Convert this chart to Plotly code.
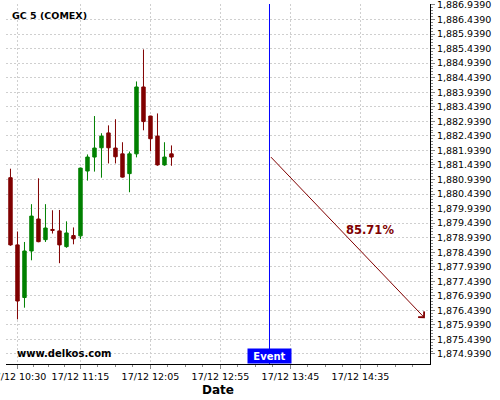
import plotly.graph_objects as go
from datetime import datetime, timedelta

DAY = "2020-12-17"

times = ["10:25", "10:30", "10:35", "10:40", "10:45", "10:50", "10:55", "11:00",
         "11:05", "11:10", "11:15", "11:20", "11:25", "11:30", "11:35", "11:40",
         "11:45", "11:50", "11:55", "12:00", "12:05", "12:10", "12:15", "12:20"]
opens = [1881.00, 1878.69, 1876.88, 1878.48, 1879.58, 1878.87, 1879.22, 1879.17,
         1878.63, 1879.01, 1879.00, 1881.23, 1881.71, 1882.03, 1882.54, 1882.02,
         1881.82, 1881.14, 1881.82, 1884.12, 1883.12, 1882.43, 1881.44, 1881.82]
highs = [1881.31, 1879.15, 1878.79, 1880.09, 1880.98, 1880.09, 1879.88, 1879.89,
         1879.50, 1879.29, 1881.35, 1881.80, 1883.12, 1882.53, 1882.80, 1883.01,
         1882.22, 1881.90, 1884.31, 1885.41, 1883.13, 1883.21, 1882.22, 1882.11]
lows = [1878.66, 1876.13, 1876.53, 1878.16, 1878.78, 1878.79, 1879.08, 1878.06,
        1878.59, 1878.71, 1878.89, 1880.90, 1881.21, 1881.00, 1881.49, 1881.49,
        1881.00, 1880.50, 1881.70, 1882.63, 1881.91, 1881.41, 1881.41, 1881.41]
closes = [1878.69, 1876.76, 1878.48, 1879.68, 1878.80, 1879.27, 1879.19, 1878.69,
          1879.10, 1878.90, 1881.33, 1881.71, 1882.02, 1882.43, 1882.03, 1881.72,
          1881.02, 1881.82, 1884.12, 1882.93, 1882.34, 1881.44, 1881.71, 1881.71]

x_tick_times = ["10:30", "11:15", "12:05", "12:55", "13:45", "14:35"]
x_tick_labels = ["17/12 10:30", "17/12 11:15", "17/12 12:05",
                 "17/12 12:55", "17/12 13:45", "17/12 14:35"]

y_tick_values = [1874.939, 1875.439, 1875.939, 1876.439, 1876.939, 1877.439,
                 1877.939, 1878.439, 1878.939, 1879.439, 1879.939, 1880.439,
                 1880.939, 1881.439, 1881.939, 1882.439, 1882.939, 1883.439,
                 1883.939, 1884.439, 1884.939, 1885.439, 1885.939, 1886.439,
                 1886.939]
y_tick_labels = ["1,874.9390", "1,875.4390", "1,875.9390", "1,876.4390", "1,876.9390",
                 "1,877.4390", "1,877.9390", "1,878.4390", "1,878.9390", "1,879.4390",
                 "1,879.9390", "1,880.4390", "1,880.9390", "1,881.4390", "1,881.9390",
                 "1,882.4390", "1,882.9390", "1,883.4390", "1,883.9390", "1,884.4390",
                 "1,884.9390", "1,885.4390", "1,885.9390", "1,886.4390", "1,886.9390"]

event_time = "13:30"
arrow_start = ("13:30", 1881.76)
arrow_end = ("15:21", 1876.17)
probability_label = "85.71%"
label_pos = ("14:42", 1879.20)
instrument = "GC 5 (COMEX)"
watermark = "www.delkos.com"

x_range = ("10:21:48", "15:24:39")
y_range = (1874.594, 1886.973)


def ts(t):
    if t.count(":") == 1:
        t = t + ":00"
    return f"{DAY} {t}"


def dt(t):
    return datetime.strptime(ts(t), "%Y-%m-%d %H:%M:%S")


# minor x ticks: 4 sub-intervals between major ticks
minor_x = []
for a, b in zip(x_tick_times[:-1], x_tick_times[1:]):
    da, db = dt(a), dt(b)
    step = (db - da) / 4
    for k in range(1, 4):
        minor_x.append((da + step * k).strftime("%Y-%m-%d %H:%M:%S"))
last = dt(x_tick_times[-1])
for k in range(1, 4):
    minor_x.append((last + timedelta(minutes=12.5 * k)).strftime("%Y-%m-%d %H:%M:%S"))
first = dt(x_tick_times[0])
minor_x.append((first - timedelta(minutes=11.25)).strftime("%Y-%m-%d %H:%M:%S"))

# minor y ticks: 5 sub-intervals per major step
minor_y = []
for a, b in zip(y_tick_values[:-1], y_tick_values[1:]):
    for k in range(1, 5):
        minor_y.append(a + (b - a) * k / 5)

RED = "#800000"
GREEN = "#008000"
FONT = "DejaVu Sans"

fig = go.Figure()
fig.add_trace(go.Candlestick(
    x=[ts(t) for t in times], open=opens, high=highs, low=lows, close=closes,
    increasing=dict(line=dict(color=GREEN, width=1), fillcolor=GREEN),
    decreasing=dict(line=dict(color=RED, width=1), fillcolor=RED),
    whiskerwidth=0, showlegend=False, hoverinfo="skip",
))

fig.add_shape(type="line", xref="x", yref="paper",
              x0=ts(event_time), x1=ts(event_time), y0=0, y1=1,
              line=dict(color="#0000FF", width=1))

fig.add_annotation(x=ts(arrow_end[0]), y=arrow_end[1],
                   ax=ts(arrow_start[0]), ay=arrow_start[1],
                   xref="x", yref="y", axref="x", ayref="y",
                   showarrow=True, arrowhead=4, arrowsize=1.6, arrowwidth=1,
                   arrowcolor=RED, text="")

fig.add_annotation(x=ts(label_pos[0]), y=label_pos[1], xref="x", yref="y",
                   text=f"<b>{probability_label}</b>", showarrow=False,
                   font=dict(family=FONT, size=11.5, color=RED),
                   xanchor="center", yanchor="middle")

fig.add_annotation(x=ts(event_time), y=0, xref="x", yref="paper",
                   text="<b>Event</b>", showarrow=False,
                   font=dict(family=FONT, size=10, color="white"),
                   bgcolor="#0000FF", width=43, height=14, borderpad=0,
                   xanchor="center", yanchor="bottom")

fig.add_annotation(x=0.009, y=0.969, xref="paper", yref="paper",
                   text=f"<b>{instrument}</b>", showarrow=False,
                   font=dict(family=FONT, size=9.5, color="black"),
                   xanchor="left", yanchor="middle")

fig.add_annotation(x=0.021, y=0.028, xref="paper", yref="paper",
                   text=f"<b>{watermark}</b>", showarrow=False,
                   font=dict(family=FONT, size=10, color="black"),
                   xanchor="left", yanchor="middle")

fig.update_layout(
    width=500, height=400,
    margin=dict(l=6, r=70, t=4, b=36),
    paper_bgcolor="white", plot_bgcolor="white",
    font=dict(family=FONT, size=9.5, color="black"),
    showlegend=False,
    xaxis=dict(
        type="date", range=[ts(x_range[0]), ts(x_range[1])],
        automargin=False, ticklabeloverflow="allow",
        rangeslider=dict(visible=False),
        tickmode="array", tickvals=[ts(t) for t in x_tick_times], ticktext=x_tick_labels,
        ticks="outside", ticklen=4, tickcolor="#888888",
        tickfont=dict(family=FONT, size=9.5, color="black"),
        showgrid=True, gridcolor="#cfcfcf", griddash="2px,2px", gridwidth=1,
        showline=True, linecolor="black", linewidth=1, mirror=False,
        zeroline=False,
        minor=dict(tickmode="array", tickvals=minor_x, ticks="outside",
                   ticklen=2, tickcolor="#888888", showgrid=False),
        title=dict(text="<b>Date</b>", font=dict(family=FONT, size=12, color="black"),
                   standoff=4),
    ),
    yaxis=dict(
        side="right", range=list(y_range),
        automargin=False, ticklabeloverflow="allow",
        tickmode="array", tickvals=y_tick_values, ticktext=y_tick_labels,
        ticks="outside", ticklen=4, tickcolor="#888888",
        tickfont=dict(family=FONT, size=9.5, color="black"),
        showgrid=True, gridcolor="#cfcfcf", griddash="2px,2px", gridwidth=1,
        showline=True, linecolor="black", linewidth=1,
        zeroline=False,
        minor=dict(tickmode="array", tickvals=minor_y, ticks="outside",
                   ticklen=2, tickcolor="#888888", showgrid=False),
    ),
)

fig.write_html("out.html",
               config={"displayModeBar": False, "staticPlot": True},
               post_script="document.body.style.margin='0';document.body.style.overflow='hidden';")
